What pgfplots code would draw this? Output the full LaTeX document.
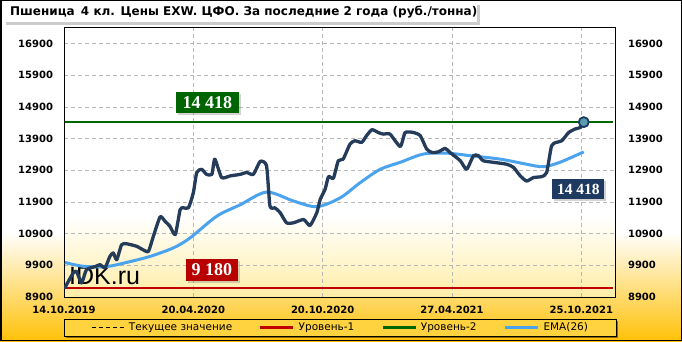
\documentclass[border=0pt]{standalone}
\usepackage{fontspec}
\setmainfont{DejaVu Sans}
\newfontfamily\titlefont{DejaVu Sans}
\newfontfamily\boxfont{Liberation Serif}
\newfontfamily\wmfont{Liberation Sans}
\usepackage{pgfplots}
\pgfplotsset{compat=1.18}
\usetikzlibrary{shadows}

\definecolor{obot}{HTML}{FFC107}
\definecolor{pbot}{HTML}{FFEDA6}
\definecolor{legfill}{HTML}{FFD23F}
\definecolor{navyline}{HTML}{243B5A}
\definecolor{emablue}{HTML}{4BA3EE}
\definecolor{lvlred}{HTML}{C00000}
\definecolor{lvlgreen}{HTML}{006600}
\definecolor{boxgreen}{HTML}{006400}
\definecolor{boxred}{HTML}{B80000}
\definecolor{boxnavy}{HTML}{1F3A60}
\definecolor{dotfill}{HTML}{5A9BB0}

\pgfdeclareverticalshading{outerbg}{100bp}{color(0bp)=(obot); color(25bp)=(obot); color(41bp)=(white); color(100bp)=(white)}
\pgfdeclareverticalshading{plotbg}{100bp}{color(0bp)=(pbot); color(25bp)=(pbot); color(40bp)=(white); color(100bp)=(white)}

\pgfplotstableread{
w v
0.2 9200
1.9 9660
2.6 9700
3.6 9340
4.6 9760
6.4 9860
7.4 9920
8.4 9820
9.4 10180
10.1 10290
10.8 10075
11.8 10550
12.8 10580
14.9 10500
16.2 10390
17.3 10340
18.3 10810
19.7 11430
20.7 11290
21.7 11135
22.8 10870
23.8 11660
24.5 11715
25.5 11715
26.5 12190
27.2 12830
28.2 12930
29.2 12770
30.3 12770
30.9 13250
32.3 12670
34.0 12720
36.1 12770
37.4 12830
38.8 12770
40.2 13180
41.5 13040
42.2 11770
43.2 11715
44.3 11560
45.6 11240
47.0 11240
49.1 11345
50.4 11155
51.8 11560
52.5 11980
53.5 12300
54.2 12700
55.2 12650
56.2 13200
57.2 13250
58.6 13725
59.6 13830
61.0 13780
62.0 13990
63.1 14180
64.4 14090
65.4 14040
66.8 14040
68.9 13650
69.9 14090
71.6 14090
73.0 13990
74.3 13570
75.4 13460
76.7 13480
78.1 13590
79.1 13460
81.2 13200
82.5 12930
83.9 13360
84.9 13360
85.9 13200
88.0 13150
90.7 13090
92.1 12990
93.5 12720
94.8 12560
96.2 12670
97.9 12700
98.9 12830
99.9 13670
100.9 13780
102.0 13830
103.4 14090
104.7 14200
105.8 14250
106.5 14418
}\pricetable

\pgfplotstableread{
w v
0.2 9990
3.9 9870
8.7 9860
12.8 9990
17.6 10180
22.4 10450
25.8 10760
31.3 11450
36.1 11810
41.5 12210
47.0 11930
51.8 11750
56.6 12030
60.7 12510
64.8 12930
68.9 13150
73.6 13410
78.4 13440
83.2 13360
89.4 13250
94.8 13090
98.2 13010
101.6 13150
106.5 13480
}\ematable

\begin{document}
\begin{tikzpicture}[x=1pt,y=1pt]
% background and bounding box
\path[use as bounding box] (0,0) rectangle (682,341);
\shade[shading=outerbg] (0,0) rectangle (682,341);
\draw[black, line width=1.5pt] (0.75,0.75) rectangle (681.25,340.25);
% title box
\fill[black, opacity=0.2] (6,315.5) rectangle (480,336);
\fill[white] (3,319) rectangle (477,339.2);
\node[anchor=west, inner sep=0pt, font=\titlefont\bfseries\fontsize{12}{14}\selectfont] at (10,329) {Пшеница\, 4 кл. Цены EXW. ЦФО. За последние 2 года (руб./тонна)};
% plot area background
\shade[shading=plotbg] (64,44) rectangle (615,314);
% watermark
\node[anchor=base west, inner sep=0pt, font=\wmfont\fontsize{25}{30}\selectfont] at (69,57) {IDK.ru};
% legend box
\fill[black, opacity=0.45] (66,3) rectangle (618,20);
\draw[black, line width=1pt, fill=legfill] (64,5) rectangle (616,22);

\begin{axis}[
  at={(64pt,44pt)}, anchor=south west,
  scale only axis, width=551pt, height=270pt,
  xmin=0, xmax=112.9, ymin=8900, ymax=17420,
  scaled y ticks=false,
  xtick={0,26.5,53,79.5,106},
  xticklabels={14.10.2019,20.04.2020,20.10.2020,27.04.2021,25.10.2021},
  ytick={8900,9900,...,16900},
  grid=major,
  major grid style={black!28, dash pattern=on 4pt off 3pt, line width=0.6pt},
  major tick length=0pt,
  axis line style={black, line width=1pt},
  tick label style={font=\fontsize{10}{12}\selectfont\bfseries},
  /pgf/number format/1000 sep={},
  /pgf/number format/assume math mode=true,
  xticklabel style={yshift=-6pt},
  yticklabel style={xshift=-7.5pt},
  legend style={at={(axis description cs:0.501,-0.113)}, anchor=center, draw=none, fill=none,
    legend columns=4, font=\fontsize{10.5}{12}\selectfont,
    nodes={inner sep=1pt},
    /tikz/every odd column/.append style={column sep=3pt},
    /tikz/every even column/.append style={column sep=26pt}},
  legend image code/.code={\draw[#1] (0pt,0pt) -- (33pt,0pt);},
]
\addlegendimage{black, line width=0.8pt, dash pattern=on 4pt off 3pt}
\addlegendentry{Текущее значение}
\addlegendimage{lvlred, line width=2.5pt}
\addlegendentry{Уровень-1}
\addlegendimage{lvlgreen, line width=2.5pt}
\addlegendentry{Уровень-2}
\addlegendimage{emablue, line width=3pt}
\addlegendentry{EMA(26)}

\addplot[forget plot, lvlred, line width=2.5pt] coordinates {(0.3,9180) (112.5,9180)};
\addplot[forget plot, lvlgreen, line width=2pt] coordinates {(0.3,14418) (112.5,14418)};
\addplot[forget plot, emablue, line width=3pt, smooth, tension=0.5] table[x=w,y=v] {\ematable};
\addplot[forget plot, navyline, line width=3.3pt, line join=round, line cap=round, smooth, tension=0.35] table[x=w,y=v] {\pricetable};
\addplot[forget plot, only marks, mark=*, mark size=5pt, mark options={fill=dotfill, draw=boxnavy, line width=1.8pt}] coordinates {(106.5,14418)};

\node[fill=boxgreen, text=white, font=\boxfont\bfseries\fontsize{18}{20}\selectfont, inner xsep=6.5pt, inner ysep=4.5pt, drop shadow={shadow xshift=2pt, shadow yshift=-2pt, opacity=0.35}] at (axis cs:29.4,15027) {14 418};
\node[fill=boxred, text=white, font=\boxfont\bfseries\fontsize{18}{20}\selectfont, inner xsep=5.5pt, inner ysep=5pt, drop shadow={shadow xshift=2pt, shadow yshift=-2pt, opacity=0.35}] at (axis cs:30.3,9757) {9 180};
\node[fill=boxnavy, text=white, font=\boxfont\bfseries\fontsize{15.5}{18}\selectfont, inner xsep=4.7pt, inner ysep=4.8pt, drop shadow={shadow xshift=2pt, shadow yshift=-2pt, opacity=0.35}] at (axis cs:105.4,12297) {14 418};
\end{axis}

\begin{axis}[
  at={(64pt,44pt)}, anchor=south west,
  scale only axis, width=551pt, height=270pt,
  xmin=0, xmax=112.9, ymin=8900, ymax=17420,
  scaled y ticks=false,
  hide x axis,
  axis y line*=right,
  axis line style={draw=none},
  ytick={8900,9900,...,16900},
  major tick length=0pt,
  tick label style={font=\fontsize{10}{12}\selectfont\bfseries},
  /pgf/number format/1000 sep={},
  /pgf/number format/assume math mode=true,
  yticklabel style={xshift=9.5pt},
]
\end{axis}
\end{tikzpicture}
\end{document}
